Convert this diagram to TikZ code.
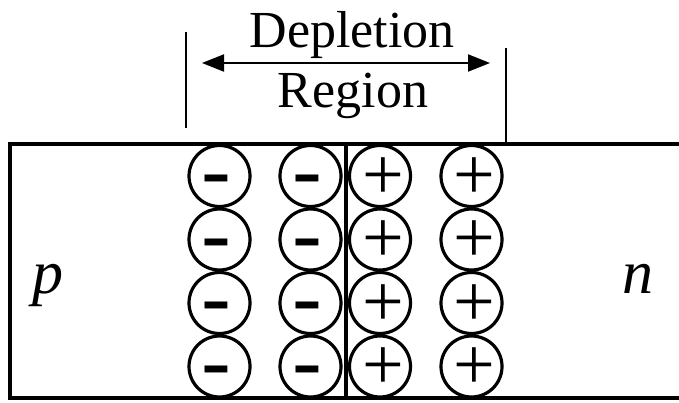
\documentclass[tikz,border=0pt]{standalone}
\usepackage{fontspec}
\setmainfont{Liberation Serif}
\newfontfamily\minusfont{Liberation Sans}
\usetikzlibrary{arrows.meta,calc}
\tikzset{
  x=1pt,y=1pt,
  ion/.style={circle,draw,line width=3.2pt,minimum size=61pt,inner sep=0pt,outer sep=0pt},
  minussign/.style={inner sep=0pt,outer sep=0pt,font=\minusfont\bfseries\fontsize{58}{58}\selectfont},
  plussign/.style={inner sep=0pt,outer sep=0pt,font=\fontsize{74}{74}\selectfont},
  bigtext/.style={inner sep=0pt,anchor=base,font=\fontsize{52}{52}\selectfont},
  sidetext/.style={inner sep=0pt,anchor=base,font=\itshape\fontsize{62}{62}\selectfont},
  guide/.style={line width=2pt},
  border/.style={line width=4pt}
}
\newcommand{\wideminus}{\scalebox{1.55}[1]{-}}
\begin{document}
\begin{tikzpicture}
\useasboundingbox (0,0) rectangle (679,402);
% outer block (right side open)
\draw[border] (681,258) -- (10,258) -- (10,4) -- (681,4);
% junction line
\coordinate (jtop) at (346,258);
\coordinate (jbot) at (346,4);
\draw[line width=3.4pt] (jtop) -- (jbot);
% ions
\foreach \r/\y in {1/226,2/162.5,3/99,4/35.5}{
  \node[ion] (a\r) at (219.5,\y) {};
  \node[ion] (b\r) at (310.5,\y) {};
  \node[ion] (c\r) at (380,\y) {};
  \node[ion] (d\r) at (471.5,\y) {};
  \node[minussign] (ma\r) at ($(a\r)+(-3.2,-8.3)$) {\wideminus};
  \node[minussign] (mb\r) at ($(b\r)+(-3.2,-8.3)$) {\wideminus};
  \node[plussign] (pc\r) at ($(c\r)+(3.3,-2.2)$) {+};
  \node[plussign] (pd\r) at ($(d\r)+(3.3,-2.2)$) {+};
}
% depletion region markers
\coordinate (lt) at (186,370);
\coordinate (lb) at (186,274);
\coordinate (rt) at (506,354);
\coordinate (rb) at (506,258);
\draw[guide] (lt) -- (lb);
\draw[guide] (rt) -- (rb);
\coordinate (al) at (202,339);
\coordinate (ar) at (490,339);
\draw[guide,{Triangle[length=22pt,width=17pt]}-{Triangle[length=22pt,width=17pt]}] (al) -- (ar);
\node[bigtext] (dep) at (352,354) {Depletion};
\node[bigtext] (reg) at (353,294) {Region};
\node[sidetext] (p) at (48,109) {p};
\node[sidetext] (n) at (638,109) {n};
\end{tikzpicture}
\end{document}
